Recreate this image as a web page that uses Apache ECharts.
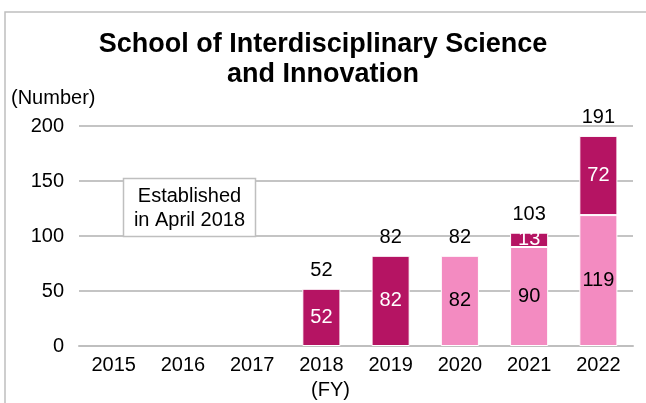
<!DOCTYPE html>
<html>
<head>
<meta charset="utf-8">
<script src="https://cdn.jsdelivr.net/npm/echarts@6/dist/echarts.min.js"></script>
<style>
  html, body { margin: 0; padding: 0; background: #fff; }
  #main { width: 646px; height: 403px; }
</style>
</head>
<body>
<div id="main"></div>
<script>
// 年度データ
var years = ['2015', '2016', '2017', '2018', '2019', '2020', '2021', '2022'];
var pinkValues = [null, null, null, null, null, 82, 90, 119];
var darkValues = [null, null, null, 52, 82, null, 13, 72];
var totals = [null, null, null, 52, 82, 82, 103, 191];
var yTicks = [0, 50, 100, 150, 200];

var myChart = echarts.init(document.getElementById('main'));

var font = 'Liberation Sans, Arial, sans-serif';

function innerLabel(color) {
    return {
        show: true,
        position: 'inside',
        color: color,
        fontFamily: font,
        fontSize: 20
    };
}

option = {
    animation: false,
    textStyle: { fontFamily: font },
    title: {
        text: 'School of Interdisciplinary Science\nand Innovation',
        left: 'center',
        top: 25,
        textStyle: {
            fontFamily: font,
            fontSize: 27,
            fontWeight: 'bold',
            color: '#000',
            lineHeight: 30
        }
    },
    grid: {
        left: 79,
        right: 13,
        top: 126,
        bottom: 57
    },
    xAxis: {
        type: 'category',
        data: years,
        axisTick: { show: false },
        axisLine: { lineStyle: { color: '#bfbfbf', width: 2 } },
        axisLabel: {
            color: '#000',
            fontFamily: font,
            fontSize: 20,
            margin: 9
        }
    },
    yAxis: {
        type: 'value',
        min: yTicks[0],
        max: yTicks[yTicks.length - 1],
        interval: 50,
        axisLine: { show: false },
        axisTick: { show: false },
        splitLine: { lineStyle: { color: '#c4c4c4', width: 2 } },
        axisLabel: {
            color: '#000',
            fontFamily: font,
            fontSize: 20,
            margin: 15
        }
    },
    series: [
        {
            name: 'total',
            type: 'bar',
            barWidth: '55%',
            data: totals,
            z: 1,
            itemStyle: { color: 'rgba(255,255,255,0)' },
            label: {
                show: true,
                position: 'top',
                distance: 8,
                color: '#000',
                fontFamily: font,
                fontSize: 20
            }
        },
        {
            name: 'pink',
            type: 'bar',
            stack: 'total',
            barWidth: '55%',
            barGap: '-100%',
            data: pinkValues,
            z: 2,
            itemStyle: { color: '#f38bc1', borderColor: '#fff', borderWidth: 1 },
            label: innerLabel('#000')
        },
        {
            name: 'dark',
            type: 'bar',
            stack: 'total',
            barWidth: '55%',
            barGap: '-100%',
            data: darkValues,
            z: 2,
            itemStyle: { color: '#b51463', borderColor: '#fff', borderWidth: 1 },
            label: innerLabel('#fff')
        }
    ],
    graphic: [
        {
            type: 'rect',
            shape: { x: 5, y: 12, width: 660, height: 420 },
            style: { fill: 'none', stroke: '#bfbfbf', lineWidth: 1.5 },
            silent: true
        },
        {
            type: 'text',
            left: 11,
            top: 88,
            style: { text: '(Number)', font: '20px ' + font, fill: '#000' }
        },
        {
            type: 'text',
            left: 311,
            top: 380,
            style: { text: '(FY)', font: '20px ' + font, fill: '#000' }
        },
        {
            type: 'rect',
            shape: { x: 123.5, y: 178.5, width: 132, height: 58 },
            style: { fill: '#fff', stroke: '#bfbfbf', lineWidth: 1.5 },
            z: 10
        },
        {
            type: 'text',
            x: 189.5,
            y: 208,
            style: {
                text: 'Established\nin April 2018',
                font: '20px ' + font,
                fill: '#000',
                align: 'center',
                verticalAlign: 'middle',
                lineHeight: 24
            },
            z: 11
        }
    ]
};

myChart.setOption(option);
</script>
</body>
</html>
